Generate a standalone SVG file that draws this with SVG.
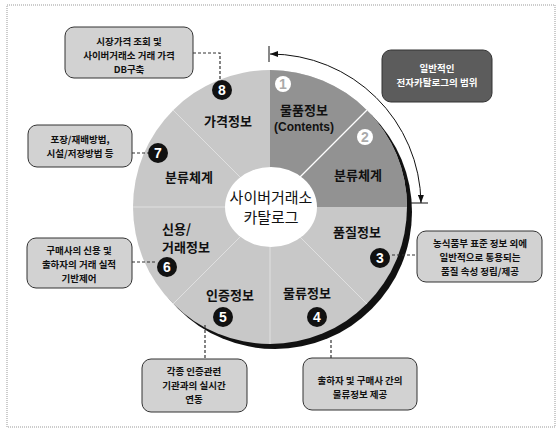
<svg xmlns="http://www.w3.org/2000/svg" width="559" height="437" viewBox="0 0 559 437">
<style>
.lbl{font-family:"Noto Sans CJK KR","Noto Sans",sans-serif;font-size:13px;font-weight:bold;fill:#111;text-anchor:middle}
.box{fill:#d2d2d2;stroke:#333;stroke-width:1}
.bt{font-family:"Noto Sans CJK KR","Noto Sans",sans-serif;font-size:9.5px;font-weight:bold;fill:#111;text-anchor:middle}
.num{font-family:"Liberation Sans",Arial,sans-serif;font-size:14px;font-weight:bold;fill:#fff;text-anchor:middle}
.numw{font-family:"Liberation Sans",Arial,sans-serif;font-size:14px;font-weight:bold;fill:#aaa;text-anchor:middle}
.conn{fill:none;stroke:#333;stroke-width:1.2;stroke-dasharray:3 2}
.div{stroke:#fff;stroke-width:1;opacity:0.45}
.ctr{font-family:"Noto Sans CJK KR","Noto Sans",sans-serif;font-size:15px;fill:#111;text-anchor:middle}
</style>
<defs>
<marker id="ah" viewBox="0 0 8 6" refX="8" refY="3" markerWidth="8" markerHeight="6" markerUnits="userSpaceOnUse" orient="auto-start-reverse">
<path d="M0,0 L8,3 L0,6 Z" fill="#111"/>
</marker>
</defs>
<rect x="7" y="5" width="548" height="422" fill="none" stroke="#999" stroke-width="1" stroke-dasharray="1 1"/>

<g id="wheel">
<circle cx="275" cy="212" r="137" fill="#111"/>
<circle cx="270" cy="207" r="137" fill="#c8c8c8"/>
<path d="M270,207 L270,70 A137,137 0 0 1 407,207 Z" fill="#929292"/>
<line x1="270" y1="207" x2="367" y2="110" stroke="#fff" stroke-width="1.2"/>
<line class="div" x1="270" y1="207" x2="367" y2="304"/>
<line class="div" x1="270" y1="207" x2="270" y2="344"/>
<line class="div" x1="270" y1="207" x2="173" y2="304"/>
<line class="div" x1="270" y1="207" x2="133" y2="207"/>
<line class="div" x1="270" y1="207" x2="173" y2="110"/>
<ellipse cx="271" cy="207" rx="46" ry="40" fill="#fff"/>
<text class="ctr" x="271" y="203">사이버거래소</text>
<text class="ctr" x="271" y="223">카탈로그</text>
</g>

<g id="seg1">
<circle cx="283" cy="84" r="8" fill="#fff"/>
<text class="numw" x="283" y="89">1</text>
<text class="lbl" x="304" y="115">물품정보</text>
<text x="304" y="131" font-family="Liberation Sans,Arial,sans-serif" font-size="12" font-weight="bold" fill="#111" text-anchor="middle">(Contents)</text>
</g>
<g id="seg2">
<circle cx="365" cy="137" r="8" fill="#fff"/>
<text class="numw" x="365" y="142">2</text>
<text class="lbl" x="358" y="180">분류체계</text>
</g>
<g id="seg3">
<text class="lbl" x="357" y="237">품질정보</text>
<circle cx="380" cy="258" r="10" fill="#111"/>
<text class="num" x="380" y="263">3</text>
</g>
<g id="seg4">
<text class="lbl" x="307" y="298">물류정보</text>
<circle cx="317" cy="317" r="10" fill="#111"/>
<text class="num" x="317" y="322">4</text>
</g>
<g id="seg5">
<text class="lbl" x="230" y="300">인증정보</text>
<circle cx="223" cy="317" r="10" fill="#111"/>
<text class="num" x="223" y="322">5</text>
</g>
<g id="seg6">
<text class="lbl" x="162" y="234" style="text-anchor:start">신용/</text>
<text class="lbl" x="162" y="252" style="text-anchor:start">거래정보</text>
<circle cx="167" cy="267" r="10" fill="#111"/>
<text class="num" x="167" y="272">6</text>
</g>
<g id="seg7">
<circle cx="158" cy="153" r="10" fill="#111"/>
<text class="num" x="158" y="158">7</text>
<text class="lbl" x="189" y="182">분류체계</text>
</g>
<g id="seg8">
<circle cx="222" cy="90" r="10" fill="#111"/>
<text class="num" x="222" y="95">8</text>
<text class="lbl" x="228" y="126">가격정보</text>
</g>

<g id="scope">
<rect x="382" y="50" width="110" height="52" rx="9" fill="#5c5c5c" stroke="#333"/>
<text class="bt" x="437" y="72" style="fill:#fff">일반적인</text>
<text class="bt" x="437" y="86" style="fill:#fff">전자카탈로그의 범위</text>
</g>

<g id="box8">
<rect class="box" x="65" y="27" width="128" height="51" rx="9"/>
<text class="bt" x="129" y="45">시장가격 조회 및</text>
<text class="bt" x="129" y="59">사이버거래소 거래 가격</text>
<text class="bt" x="129" y="73">DB구축</text>
</g>
<g id="box7">
<rect class="box" x="28" y="125" width="104" height="42" rx="9"/>
<text class="bt" x="80" y="143">포장/재배방법,</text>
<text class="bt" x="80" y="157">시설/저장방법 등</text>
</g>
<g id="box6">
<rect class="box" x="27" y="238" width="105" height="50" rx="9"/>
<text class="bt" x="79" y="254">구매사의 신용 및</text>
<text class="bt" x="79" y="268">출하자의 거래 실적</text>
<text class="bt" x="79" y="282">기반제어</text>
</g>
<g id="box5">
<rect class="box" x="142" y="359" width="105" height="53" rx="9"/>
<text class="bt" x="194" y="375">각종 인증관련</text>
<text class="bt" x="194" y="389">기관과의 실시간</text>
<text class="bt" x="194" y="403">연동</text>
</g>
<g id="box4">
<rect class="box" x="303" y="358" width="114" height="52" rx="9"/>
<text class="bt" x="360" y="384">출하자 및 구매사 간의</text>
<text class="bt" x="360" y="398">물류정보 제공</text>
</g>
<g id="box3">
<rect class="box" x="417" y="231" width="125" height="51" rx="9"/>
<text class="bt" x="480" y="247">농식품부 표준 정보 외에</text>
<text class="bt" x="480" y="261">일반적으로 통용되는</text>
<text class="bt" x="480" y="275">품질 속성 정립/제공</text>
</g>

<g id="connectors">
<path class="conn" d="M193,53 H220 V80"/>
<path class="conn" d="M132,153 H148"/>
<path class="conn" d="M132,262 H157"/>
<path class="conn" d="M205,325 V359"/>
<path class="conn" d="M331,340 V358"/>
<path class="conn" d="M392,255 H417"/>
<path d="M270,54 A151,151 0 0 1 421,203" fill="none" stroke="#111" stroke-width="1" marker-start="url(#ah)" marker-end="url(#ah)"/>
<line x1="269" y1="46" x2="269" y2="62" stroke="#111" stroke-width="1"/>
<line x1="411" y1="203" x2="428" y2="203" stroke="#111" stroke-width="1"/>
</g>
</svg>
